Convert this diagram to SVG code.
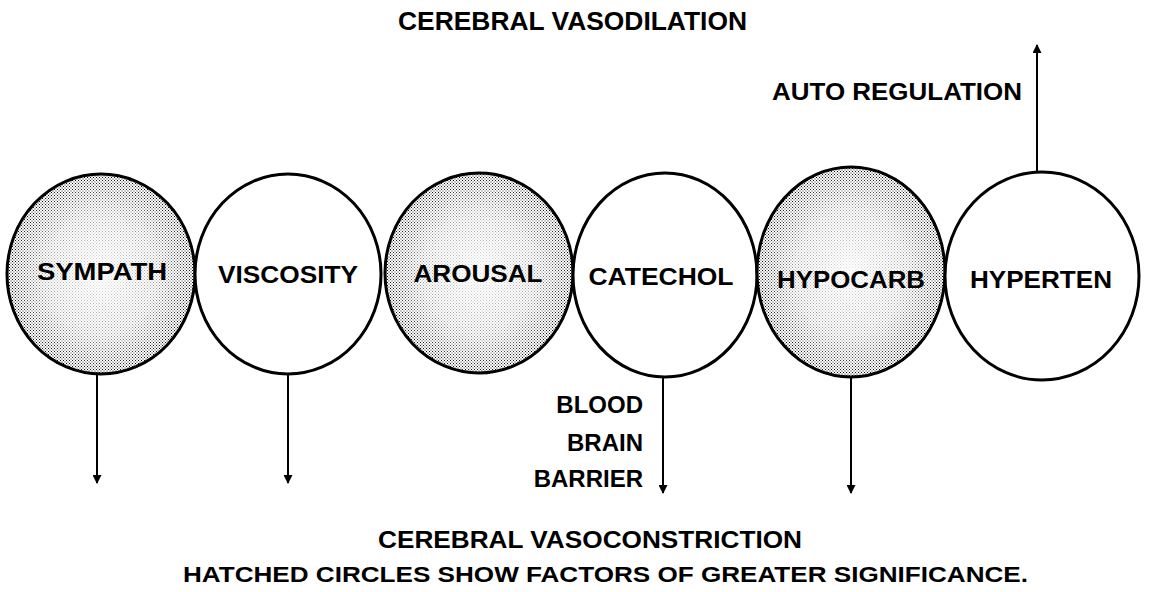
<svg xmlns="http://www.w3.org/2000/svg" width="1150" height="592" viewBox="0 0 1150 592">
  <style>
    .node { stroke: #000; stroke-width: 3; }
    .plain { fill: #fff; }
    .lbl { font-family: "Liberation Sans", Arial, sans-serif; font-weight: bold; fill: #000; }
    .conn { stroke: #000; stroke-width: 2; fill: none; }
  </style>
  <defs>
    <pattern id="stipple" width="3" height="3" patternUnits="userSpaceOnUse">
      <rect width="3" height="3" fill="#fff"/>
      <rect x="0" y="0" width="1" height="1" fill="#000"/>
      <rect x="1.5" y="1.5" width="1" height="1" fill="#000"/>
    </pattern>
    <radialGradient id="fade" cx="0.5" cy="0.5" r="0.5">
      <stop offset="0" stop-color="#fff" stop-opacity="0.9"/>
      <stop offset="0.6" stop-color="#fff" stop-opacity="0.6"/>
      <stop offset="1" stop-color="#fff" stop-opacity="0"/>
    </radialGradient>
    <marker id="ah" markerWidth="9" markerHeight="9" refX="8" refY="4.5" orient="auto" markerUnits="userSpaceOnUse" viewBox="0 0 9 9">
      <path d="M0,0 L9,4.5 L0,9 Z" fill="#000"/>
    </marker>
  </defs>
  <rect width="1150" height="592" fill="#fff"/>

  <g id="connectors">
    <line class="conn" x1="97" y1="373" x2="97" y2="483" marker-end="url(#ah)"/>
    <line class="conn" x1="288" y1="374" x2="288" y2="483" marker-end="url(#ah)"/>
    <line class="conn" x1="663" y1="377" x2="663" y2="493" marker-end="url(#ah)"/>
    <line class="conn" x1="851" y1="377" x2="851" y2="493" marker-end="url(#ah)"/>
    <line class="conn" x1="1037" y1="172" x2="1037" y2="45" marker-end="url(#ah)"/>
  </g>

  <g id="n-sympath">
    <ellipse cx="101" cy="274" rx="94" ry="100" fill="url(#stipple)"/>
    <ellipse cx="101" cy="274" rx="94" ry="100" fill="url(#fade)"/>
    <ellipse class="node" cx="101" cy="274" rx="94" ry="100" fill="none"/>
    <text class="lbl" x="102" y="280" font-size="24" text-anchor="middle" textLength="130" lengthAdjust="spacingAndGlyphs">SYMPATH</text>
  </g>
  <g id="n-viscosity">
    <ellipse class="node plain" cx="288" cy="274" rx="93" ry="100"/>
    <text class="lbl" x="288" y="283" font-size="24" text-anchor="middle" textLength="140" lengthAdjust="spacingAndGlyphs">VISCOSITY</text>
  </g>
  <g id="n-arousal">
    <ellipse cx="479" cy="273" rx="94" ry="100" fill="url(#stipple)"/>
    <ellipse cx="479" cy="273" rx="94" ry="100" fill="url(#fade)"/>
    <ellipse class="node" cx="479" cy="273" rx="94" ry="100" fill="none"/>
    <text class="lbl" x="478" y="282" font-size="24" text-anchor="middle" textLength="129" lengthAdjust="spacingAndGlyphs">AROUSAL</text>
  </g>
  <g id="n-catechol">
    <ellipse class="node plain" cx="665" cy="275" rx="92" ry="102"/>
    <text class="lbl" x="661" y="285" font-size="24" text-anchor="middle" textLength="145" lengthAdjust="spacingAndGlyphs">CATECHOL</text>
  </g>
  <g id="n-hypocarb">
    <ellipse cx="851" cy="272" rx="94" ry="105" fill="url(#stipple)"/>
    <ellipse cx="851" cy="272" rx="94" ry="105" fill="url(#fade)"/>
    <ellipse class="node" cx="851" cy="272" rx="94" ry="105" fill="none"/>
    <text class="lbl" x="851" y="288" font-size="24" text-anchor="middle" textLength="148" lengthAdjust="spacingAndGlyphs">HYPOCARB</text>
  </g>
  <g id="n-hyperten">
    <ellipse class="node plain" cx="1042" cy="276" rx="97" ry="104"/>
    <text class="lbl" x="1041" y="288" font-size="24" text-anchor="middle" textLength="142" lengthAdjust="spacingAndGlyphs">HYPERTEN</text>
  </g>

  <g id="labels">
    <text class="lbl" x="398" y="30" font-size="25" textLength="349" lengthAdjust="spacingAndGlyphs">CEREBRAL  VASODILATION</text>
    <text class="lbl" x="772" y="100" font-size="23" textLength="250" lengthAdjust="spacingAndGlyphs">AUTO REGULATION</text>
    <text class="lbl" x="643" y="413" font-size="24" text-anchor="end">BLOOD</text>
    <text class="lbl" x="643" y="451" font-size="24" text-anchor="end">BRAIN</text>
    <text class="lbl" x="643" y="487" font-size="24" text-anchor="end">BARRIER</text>
    <text class="lbl" x="378" y="548" font-size="23" textLength="424" lengthAdjust="spacingAndGlyphs">CEREBRAL  VASOCONSTRICTION</text>
    <text class="lbl" x="183" y="582" font-size="22" textLength="845" lengthAdjust="spacingAndGlyphs">HATCHED CIRCLES SHOW FACTORS OF GREATER SIGNIFICANCE.</text>
  </g>
</svg>
